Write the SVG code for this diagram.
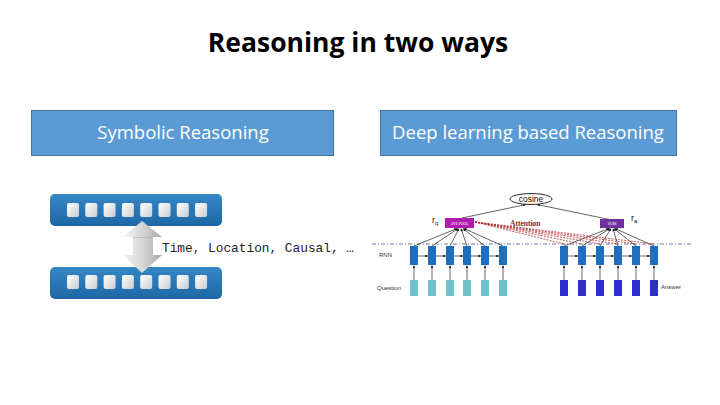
<svg xmlns="http://www.w3.org/2000/svg" width="720" height="405" viewBox="0 0 720 405">
<style>
.hdr{fill:#5B9BD5;stroke:#41719C;stroke-width:1}
.hdrt{font-family:"Open Sans","Noto Sans",sans-serif;font-size:18.5px;fill:#ffffff;text-anchor:middle}
.bar{fill:url(#barG)}
.sq{fill:url(#sqG)}
.rnn{fill:#1F6FC0}
.qc{fill:#6EC3CA}
.ac{fill:#2F2FCC}
.lbl{font-family:"Liberation Sans",Arial,sans-serif;font-size:6px;fill:#333333}
.ln{stroke:#222222;stroke-width:0.7;fill:none}
.att{stroke:#B03030;stroke-width:0.8;stroke-dasharray:2,1.2;fill:none}
</style>
<defs>
<linearGradient id="barG" x1="0" y1="0" x2="0" y2="1">
<stop offset="0" stop-color="#3587C6"/>
<stop offset="1" stop-color="#1E67A6"/>
</linearGradient>
<linearGradient id="sqG" x1="0" y1="0" x2="1" y2="1">
<stop offset="0" stop-color="#FFFFFF"/>
<stop offset="1" stop-color="#C8CDD2"/>
</linearGradient>
<linearGradient id="arrG" x1="0" y1="0" x2="1" y2="0">
<stop offset="0" stop-color="#F4F4F4"/>
<stop offset="0.5" stop-color="#D6D6D6"/>
<stop offset="1" stop-color="#A9A9A9"/>
</linearGradient>
<marker id="ah" viewBox="0 0 6 6" refX="6" refY="3" markerWidth="4" markerHeight="4" orient="auto">
<path d="M0,0 L6,3 L0,6 z" fill="#111111"/>
</marker>
</defs>

<text x="358" y="52" font-family="'Open Sans','Noto Sans',sans-serif" font-size="26.5" font-weight="bold" fill="#000000" text-anchor="middle">Reasoning in two ways</text>

<g id="hdr-symbolic">
<rect class="hdr" x="31.5" y="110.5" width="302" height="45"/>
<text class="hdrt" x="183" y="138.5">Symbolic Reasoning</text>
</g>
<g id="hdr-deep">
<rect class="hdr" x="380.5" y="110.5" width="296" height="45"/>
<text class="hdrt" x="528" y="138.5">Deep learning based Reasoning</text>
</g>

<g id="sym-top">
<rect class="bar" x="50" y="194" width="172" height="32" rx="5"/>
<rect class="sq" x="67" y="203" width="12" height="14" rx="2"/>
<rect class="sq" x="85.3" y="203" width="12" height="14" rx="2"/>
<rect class="sq" x="103.6" y="203" width="12" height="14" rx="2"/>
<rect class="sq" x="121.9" y="203" width="12" height="14" rx="2"/>
<rect class="sq" x="140.2" y="203" width="12" height="14" rx="2"/>
<rect class="sq" x="158.5" y="203" width="12" height="14" rx="2"/>
<rect class="sq" x="176.8" y="203" width="12" height="14" rx="2"/>
<rect class="sq" x="195.1" y="203" width="12" height="14" rx="2"/>
</g>
<g id="sym-bottom">
<rect class="bar" x="50" y="267" width="172" height="32" rx="5"/>
<rect class="sq" x="67" y="275" width="12" height="14" rx="2"/>
<rect class="sq" x="85.3" y="275" width="12" height="14" rx="2"/>
<rect class="sq" x="103.6" y="275" width="12" height="14" rx="2"/>
<rect class="sq" x="121.9" y="275" width="12" height="14" rx="2"/>
<rect class="sq" x="140.2" y="275" width="12" height="14" rx="2"/>
<rect class="sq" x="158.5" y="275" width="12" height="14" rx="2"/>
<rect class="sq" x="176.8" y="275" width="12" height="14" rx="2"/>
<rect class="sq" x="195.1" y="275" width="12" height="14" rx="2"/>
</g>
<g id="sym-arrow">
<polygon points="142,221 162,237 153,237 153,255 162,255 142,273 123,255 133,255 133,237 123,237" fill="url(#arrG)"/>
<line x1="133" y1="237.5" x2="153" y2="237.5" stroke="#B8B8B8" stroke-width="0.8"/>
</g>
<text id="sym-label" x="162" y="252" font-family="'Liberation Mono','DejaVu Sans Mono',monospace" font-size="12.8" fill="#222222">Time, Location, Causal, …</text>

<g id="connectors">
<line x1="372" y1="244" x2="692" y2="244" stroke="#2B3F6A" stroke-width="0.7" stroke-dasharray="4,2,1,2"/>
<line class="ln" x1="462" y1="218" x2="526" y2="204.5" marker-end="url(#ah)"/>
<line class="ln" x1="612" y1="220" x2="537" y2="204.5" marker-end="url(#ah)"/>
<line class="ln" x1="414" y1="246" x2="457" y2="228.5" marker-end="url(#ah)"/>
<line class="ln" x1="432" y1="246" x2="458" y2="228.5" marker-end="url(#ah)"/>
<line class="ln" x1="450" y1="246" x2="459" y2="228.5" marker-end="url(#ah)"/>
<line class="ln" x1="467" y1="246" x2="461" y2="228.5" marker-end="url(#ah)"/>
<line class="ln" x1="485" y1="246" x2="463" y2="228.5" marker-end="url(#ah)"/>
<line class="ln" x1="503" y1="246" x2="464" y2="228.5" marker-end="url(#ah)"/>
<line class="ln" x1="564" y1="246" x2="609" y2="228.5" marker-end="url(#ah)"/>
<line class="ln" x1="582" y1="246" x2="610" y2="228.5" marker-end="url(#ah)"/>
<line class="ln" x1="600" y1="246" x2="611" y2="228.5" marker-end="url(#ah)"/>
<line class="ln" x1="618" y1="246" x2="613" y2="228.5" marker-end="url(#ah)"/>
<line class="ln" x1="636" y1="246" x2="614" y2="228.5" marker-end="url(#ah)"/>
<line class="ln" x1="654" y1="246" x2="615" y2="228.5" marker-end="url(#ah)"/>
<path class="att" d="M475,222 L564,244 M475,222 L582,244 M475,222 L600,244 M475,222 L618,244 M475,222 L636,244 M475,222 L654,244"/>
<line class="ln" x1="418" y1="256" x2="428" y2="256" marker-end="url(#ah)"/>
<line class="ln" x1="436" y1="256" x2="446" y2="256" marker-end="url(#ah)"/>
<line class="ln" x1="454" y1="256" x2="463" y2="256" marker-end="url(#ah)"/>
<line class="ln" x1="471" y1="256" x2="481" y2="256" marker-end="url(#ah)"/>
<line class="ln" x1="489" y1="256" x2="499" y2="256" marker-end="url(#ah)"/>
<line class="ln" x1="568" y1="256" x2="578" y2="256" marker-end="url(#ah)"/>
<line class="ln" x1="586" y1="256" x2="596" y2="256" marker-end="url(#ah)"/>
<line class="ln" x1="604" y1="256" x2="614" y2="256" marker-end="url(#ah)"/>
<line class="ln" x1="622" y1="256" x2="632" y2="256" marker-end="url(#ah)"/>
<line class="ln" x1="640" y1="256" x2="650" y2="256" marker-end="url(#ah)"/>
<line class="ln" x1="414" y1="280" x2="414" y2="265.5" marker-end="url(#ah)"/>
<line class="ln" x1="432" y1="280" x2="432" y2="265.5" marker-end="url(#ah)"/>
<line class="ln" x1="450" y1="280" x2="450" y2="265.5" marker-end="url(#ah)"/>
<line class="ln" x1="467" y1="280" x2="467" y2="265.5" marker-end="url(#ah)"/>
<line class="ln" x1="485" y1="280" x2="485" y2="265.5" marker-end="url(#ah)"/>
<line class="ln" x1="503" y1="280" x2="503" y2="265.5" marker-end="url(#ah)"/>
<line class="ln" x1="564" y1="280" x2="564" y2="265.5" marker-end="url(#ah)"/>
<line class="ln" x1="582" y1="280" x2="582" y2="265.5" marker-end="url(#ah)"/>
<line class="ln" x1="600" y1="280" x2="600" y2="265.5" marker-end="url(#ah)"/>
<line class="ln" x1="618" y1="280" x2="618" y2="265.5" marker-end="url(#ah)"/>
<line class="ln" x1="636" y1="280" x2="636" y2="265.5" marker-end="url(#ah)"/>
<line class="ln" x1="654" y1="280" x2="654" y2="265.5" marker-end="url(#ah)"/>
</g>

<g id="cosine">
<ellipse cx="531" cy="199" rx="21" ry="5.5" fill="#ffffff" stroke="#111111" stroke-width="0.9"/>
<text x="531" y="202" font-family="'Liberation Sans',Arial,sans-serif" font-size="8.5" fill="#111111" text-anchor="middle">cosine</text>
</g>
<g id="avepool">
<rect x="445" y="218" width="29" height="10" fill="#B01CAE"/>
<text x="459.5" y="224.5" font-family="'Liberation Serif',serif" font-size="3.8" fill="#ffffff" text-anchor="middle">AVE POOL</text>
<text x="432" y="223" font-family="'Liberation Sans',Arial,sans-serif" font-size="9" fill="#111111">r<tspan font-size="6" dy="2">q</tspan></text>
</g>
<g id="sum">
<rect x="600" y="219" width="24" height="9" fill="#7030A0"/>
<text x="612" y="225" font-family="'Liberation Serif',serif" font-size="4" fill="#ffffff" text-anchor="middle">SUM</text>
<text x="631" y="221" font-family="'Liberation Sans',Arial,sans-serif" font-size="9" fill="#111111">r<tspan font-size="6" dy="2">a</tspan></text>
</g>
<text id="attention" x="510" y="226" font-family="'Liberation Serif',serif" font-size="7.5" font-weight="bold" fill="#8B1A1A">Attention</text>

<g id="rnn-q">
<rect class="rnn" x="410" y="246" width="8" height="19"/>
<rect class="rnn" x="428" y="246" width="8" height="19"/>
<rect class="rnn" x="446" y="246" width="8" height="19"/>
<rect class="rnn" x="463" y="246" width="8" height="19"/>
<rect class="rnn" x="481" y="246" width="8" height="19"/>
<rect class="rnn" x="499" y="246" width="8" height="19"/>
</g>
<g id="question">
<rect class="qc" x="410" y="280" width="8" height="16"/>
<rect class="qc" x="428" y="280" width="8" height="16"/>
<rect class="qc" x="446" y="280" width="8" height="16"/>
<rect class="qc" x="463" y="280" width="8" height="16"/>
<rect class="qc" x="481" y="280" width="8" height="16"/>
<rect class="qc" x="499" y="280" width="8" height="16"/>
</g>
<g id="rnn-a">
<rect class="rnn" x="560" y="246" width="8" height="19"/>
<rect class="rnn" x="578" y="246" width="8" height="19"/>
<rect class="rnn" x="596" y="246" width="8" height="19"/>
<rect class="rnn" x="614" y="246" width="8" height="19"/>
<rect class="rnn" x="632" y="246" width="8" height="19"/>
<rect class="rnn" x="650" y="246" width="8" height="19"/>
</g>
<g id="answer">
<rect class="ac" x="560" y="280" width="8" height="16"/>
<rect class="ac" x="578" y="280" width="8" height="16"/>
<rect class="ac" x="596" y="280" width="8" height="16"/>
<rect class="ac" x="614" y="280" width="8" height="16"/>
<rect class="ac" x="632" y="280" width="8" height="16"/>
<rect class="ac" x="650" y="280" width="8" height="16"/>
</g>
<text class="lbl" x="379" y="257">RNN</text>
<text class="lbl" x="377" y="290">Question</text>
<text class="lbl" x="661" y="289">Answer</text>
</svg>
